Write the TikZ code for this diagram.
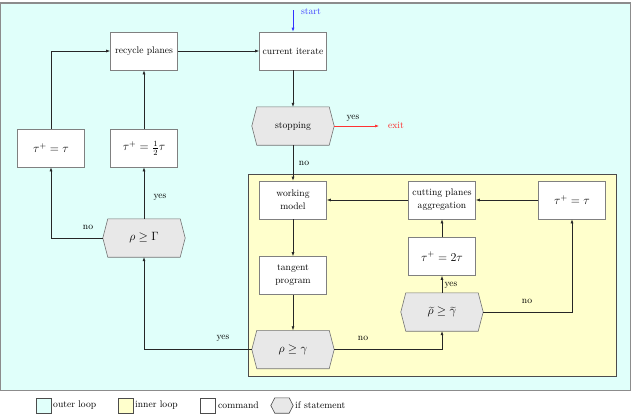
\documentclass[tikz,border=0pt]{standalone}
\usetikzlibrary{arrows.meta,backgrounds,calc}
\definecolor{outerc}{RGB}{224,255,250}
\definecolor{innerc}{RGB}{255,255,204}
\definecolor{hexc}{RGB}{232,232,232}
\begin{document}
\begin{tikzpicture}[x=1pt,y=-1pt,
  font=\fontsize{9.6}{13}\selectfont,
  cmd/.style={draw=black!50, fill=white, line width=0.6pt, minimum width=67pt, minimum height=38pt, inner sep=1pt, align=center},
  ifn/.style={minimum width=82pt, minimum height=38pt, inner sep=0pt},
  mth/.style={font=\fontsize{11.5}{14}\selectfont},
  conn/.style={draw=black!85, line width=0.6pt, -{Latex[length=4pt,width=3pt]}},
  lbl/.style={inner sep=0pt},
  hexs/.style={draw=black!55, line width=0.6pt, fill=hexc}]
\useasboundingbox (0,0) rectangle (633,416);

% command boxes
\node[cmd] (cur) at (293,51) {current iterate};
\node[cmd] (rec) at (144,51) {recycle planes};
\node[cmd,mth] (tA) at (51,148) {$\tau^+ = \tau$};
\node[cmd,mth] (tH) at (144,148) {$\tau^+ = \frac{1}{2}\tau$};
\node[cmd] (wm) at (293,200) {working\\model};
\node[cmd] (tp) at (293,275.5) {tangent\\program};
\node[cmd] (cpa) at (442,200) {cutting planes\\aggregation};
\node[cmd,mth] (t2) at (442,256.5) {$\tau^+ = 2\tau$};
\node[cmd,mth] (tR) at (572,200) {$\tau^+ = \tau$};

% if statements
\node[ifn] (stop) at (293,126) {stopping};
\node[ifn,mth] (rg) at (293,349.5) {$\rho \geq \gamma$};
\node[ifn,mth] (rG) at (144,238) {$\rho \geq \Gamma$};
\node[ifn,mth] (rtg) at (442,312) {$\widetilde{\rho} \geq \widetilde{\gamma}$};

% start / exit
\coordinate (st) at (293,10);
\node[lbl,text=blue!75] (stl) at (311,12) {start};
\coordinate (ex) at (379,126);
\node[lbl,text=red!85] (exl) at (396,125.5) {exit};

% legend
\node[draw=black!70, fill=outerc, minimum width=15pt, minimum height=15pt, inner sep=0pt] (l1) at (43.8,405.5) {};
\node[lbl, anchor=west] (l1t) at (53,405.5) {outer loop};
\node[draw=black!70, fill=innerc, minimum width=15pt, minimum height=15pt, inner sep=0pt] (l2) at (125.5,405.5) {};
\node[lbl, anchor=west] (l2t) at (135,405.5) {inner loop};
\node[draw=black!70, fill=white, minimum width=15pt, minimum height=15pt, inner sep=0pt] (l3) at (207.5,405.5) {};
\node[lbl, anchor=west] (l3t) at (218,405.5) {command};
\node[minimum width=22pt, minimum height=15pt, inner sep=0pt] (l4) at (282,405.5) {};
\node[lbl, anchor=west] (l4t) at (295,405.5) {if statement};

\begin{scope}[on background layer]
  \draw[draw=black!45, line width=1.2pt, fill=outerc] (0.6,3) rectangle (630.8,390.8);
  \draw[draw=black!70, line width=0.8pt, fill=innerc] (248.3,174.5) rectangle (616.7,376);
  \foreach \n in {stop,rg,rG,rtg}
    \draw[hexs] (\n.west) -- ($(\n.north west)+(5,0)$) -- ($(\n.north east)+(-5,0)$) -- (\n.east)
      -- ($(\n.south east)+(-5,0)$) -- ($(\n.south west)+(5,0)$) -- cycle;
  \draw[hexs, draw=black!70] (l4.west) -- ($(l4.north west)+(4,0)$) -- ($(l4.north east)+(-4,0)$) -- (l4.east)
      -- ($(l4.south east)+(-4,0)$) -- ($(l4.south west)+(4,0)$) -- cycle;
\end{scope}

% connectors
\draw[conn, draw=blue!80] (st) -- (cur);
\draw[conn] (cur) -- (stop);
\draw[conn, draw=red!80] (stop.east) -- (ex);
\draw[conn] (stop) -- (wm);
\draw[conn] (wm) -- (tp);
\draw[conn] (tp) -- (rg);
\draw[conn] (rg.west) -| (rG.south);
\draw[conn] (rg.east) -| (rtg.south);
\draw[conn] (rtg) -- (t2);
\draw[conn] (rtg.east) -| (tR.south);
\draw[conn] (t2) -- (cpa);
\draw[conn] (tR) -- (cpa);
\draw[conn] (cpa) -- (wm);
\draw[conn] (rG) -- (tH);
\draw[conn] (rG.west) -| (tA.south);
\draw[conn] (tA.north) |- (rec.west);
\draw[conn] (tH) -- (rec);
\draw[conn] (rec) -- (cur);

% labels
\node[lbl] (y1) at (353,118.5) {yes};
\node[lbl] (n1) at (304,163) {no};
\node[lbl] (y2) at (160,197) {yes};
\node[lbl] (n2) at (88,227) {no};
\node[lbl] (y3) at (223,338) {yes};
\node[lbl] (n3) at (363,338) {no};
\node[lbl] (y4) at (451,285) {yes};
\node[lbl] (n4) at (527,301) {no};
\end{tikzpicture}
\end{document}
